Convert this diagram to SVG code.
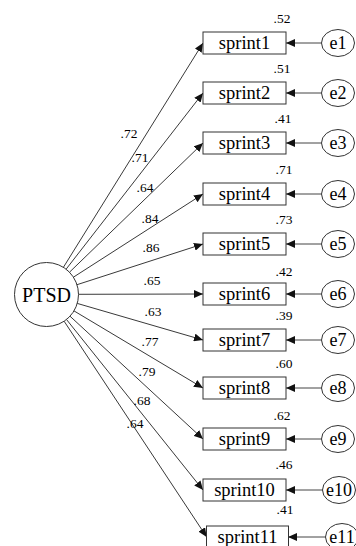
<svg xmlns="http://www.w3.org/2000/svg" width="356" height="546" viewBox="0 0 356 546" font-family="'Liberation Serif', 'Times New Roman', serif">
<style>
.box{fill:#fff;stroke:#333;stroke-width:1}
.lat{fill:#fff;stroke:#333;stroke-width:1}
.t{font-family:"Liberation Serif","Times New Roman",serif;fill:#000;text-anchor:middle}
.bt{font-size:18.5px}
.et{font-size:18px}
.nt{font-size:13.5px}
.ln{stroke:#222;stroke-width:0.9;fill:none;marker-end:url(#ah)}
.el{stroke:#444;stroke-width:1;fill:none;marker-end:url(#ah)}
</style>
<defs>
<marker id="ah" markerUnits="userSpaceOnUse" markerWidth="10" markerHeight="8" refX="9" refY="4" orient="auto">
<path d="M0,0 L9,4 L0,8 Z" fill="#111"/>
</marker>
</defs>
<g id="connectors">
<line class="ln" x1="63.4" y1="267.3" x2="203" y2="43"/>
<line class="ln" x1="66.1" y1="269.2" x2="203" y2="93"/>
<line class="ln" x1="69.5" y1="272.2" x2="203" y2="143"/>
<line class="ln" x1="73.4" y1="277.2" x2="203" y2="194"/>
<line class="ln" x1="77.0" y1="284.7" x2="203" y2="244"/>
<line class="ln" x1="78.5" y1="294.3" x2="203" y2="294"/>
<line class="ln" x1="77.2" y1="303.4" x2="203" y2="340"/>
<line class="ln" x1="74.0" y1="310.9" x2="203" y2="388"/>
<line class="ln" x1="70.0" y1="316.2" x2="203" y2="439"/>
<line class="ln" x1="66.5" y1="319.5" x2="203" y2="490"/>
<line class="ln" x1="64.1" y1="321.2" x2="206.7" y2="537"/>
<line class="el" x1="321.5" y1="43" x2="286" y2="43"/>
<line class="el" x1="321.5" y1="93" x2="286" y2="93"/>
<line class="el" x1="321.5" y1="143" x2="286" y2="143"/>
<line class="el" x1="321.5" y1="194" x2="286" y2="194"/>
<line class="el" x1="321.5" y1="244" x2="286" y2="244"/>
<line class="el" x1="321.5" y1="294" x2="286" y2="294"/>
<line class="el" x1="321.5" y1="340" x2="286" y2="340"/>
<line class="el" x1="321.5" y1="388" x2="286" y2="388"/>
<line class="el" x1="321.5" y1="439" x2="286" y2="439"/>
<line class="el" x1="323.5" y1="490" x2="286" y2="490"/>
<line class="el" x1="325.5" y1="537" x2="288" y2="537"/>
<g class="t nt">
<text x="129" y="138">.72</text>
<text x="140" y="162">.71</text>
<text x="145" y="192">.64</text>
<text x="150" y="223">.84</text>
<text x="151" y="252">.86</text>
<text x="152" y="285">.65</text>
<text x="153" y="316">.63</text>
<text x="150" y="346">.77</text>
<text x="147" y="376">.79</text>
<text x="142" y="405">.68</text>
<text x="135" y="428">.64</text>
</g>
</g>
<g id="PTSD"><circle class="lat" cx="46.5" cy="294.5" r="32"/><text class="t" x="46.5" y="301.5" font-size="20">PTSD</text></g>
<g id="sprint1"><rect class="box" x="203" y="32" width="83" height="22"/><text class="t bt" x="244.5" y="49">sprint1</text><text class="t nt" x="282" y="23">.52</text></g>
<g id="sprint2"><rect class="box" x="203" y="82" width="83" height="22"/><text class="t bt" x="244.5" y="99">sprint2</text><text class="t nt" x="282" y="73">.51</text></g>
<g id="sprint3"><rect class="box" x="203" y="132" width="83" height="22"/><text class="t bt" x="244.5" y="149">sprint3</text><text class="t nt" x="283" y="123">.41</text></g>
<g id="sprint4"><rect class="box" x="203" y="183" width="83" height="22"/><text class="t bt" x="244.5" y="200">sprint4</text><text class="t nt" x="284" y="174">.71</text></g>
<g id="sprint5"><rect class="box" x="203" y="233" width="83" height="22"/><text class="t bt" x="244.5" y="250">sprint5</text><text class="t nt" x="284" y="224">.73</text></g>
<g id="sprint6"><rect class="box" x="203" y="283" width="83" height="22"/><text class="t bt" x="244.5" y="300">sprint6</text><text class="t nt" x="284" y="276">.42</text></g>
<g id="sprint7"><rect class="box" x="203" y="329" width="83" height="22"/><text class="t bt" x="244.5" y="346">sprint7</text><text class="t nt" x="284" y="320">.39</text></g>
<g id="sprint8"><rect class="box" x="203" y="377" width="83" height="22"/><text class="t bt" x="244.5" y="394">sprint8</text><text class="t nt" x="284" y="368">.60</text></g>
<g id="sprint9"><rect class="box" x="203" y="428" width="83" height="22"/><text class="t bt" x="244.5" y="445">sprint9</text><text class="t nt" x="282" y="420">.62</text></g>
<g id="sprint10"><rect class="box" x="203" y="479" width="83" height="22"/><text class="t bt" x="244.5" y="496">sprint10</text><text class="t nt" x="284" y="469">.46</text></g>
<g id="sprint11"><rect class="box" x="206.5" y="526" width="82" height="22"/><text class="t bt" x="247.5" y="543">sprint11</text><text class="t nt" x="285" y="514">.41</text></g>
<g id="e1"><ellipse class="lat" cx="338" cy="43" rx="16.5" ry="13.5"/><text class="t et" x="338" y="49">e1</text></g>
<g id="e2"><ellipse class="lat" cx="338" cy="93" rx="16.5" ry="13.5"/><text class="t et" x="338" y="99">e2</text></g>
<g id="e3"><ellipse class="lat" cx="338" cy="143" rx="16.5" ry="13.5"/><text class="t et" x="338" y="149">e3</text></g>
<g id="e4"><ellipse class="lat" cx="338" cy="194" rx="16.5" ry="13.5"/><text class="t et" x="338" y="200">e4</text></g>
<g id="e5"><ellipse class="lat" cx="338" cy="244" rx="16.5" ry="13.5"/><text class="t et" x="338" y="250">e5</text></g>
<g id="e6"><ellipse class="lat" cx="338" cy="294" rx="16.5" ry="13.5"/><text class="t et" x="338" y="300">e6</text></g>
<g id="e7"><ellipse class="lat" cx="338" cy="340" rx="16.5" ry="13.5"/><text class="t et" x="338" y="346">e7</text></g>
<g id="e8"><ellipse class="lat" cx="338" cy="388" rx="16.5" ry="13.5"/><text class="t et" x="338" y="394">e8</text></g>
<g id="e9"><ellipse class="lat" cx="338" cy="439" rx="16.5" ry="13.5"/><text class="t et" x="338" y="445">e9</text></g>
<g id="e10"><ellipse class="lat" cx="339" cy="490" rx="16.5" ry="13.5"/><text class="t et" x="339" y="496">e10</text></g>
<g id="e11"><ellipse class="lat" cx="342" cy="537" rx="16.5" ry="13.5"/><text class="t et" x="342" y="543">e11</text></g>
</svg>
